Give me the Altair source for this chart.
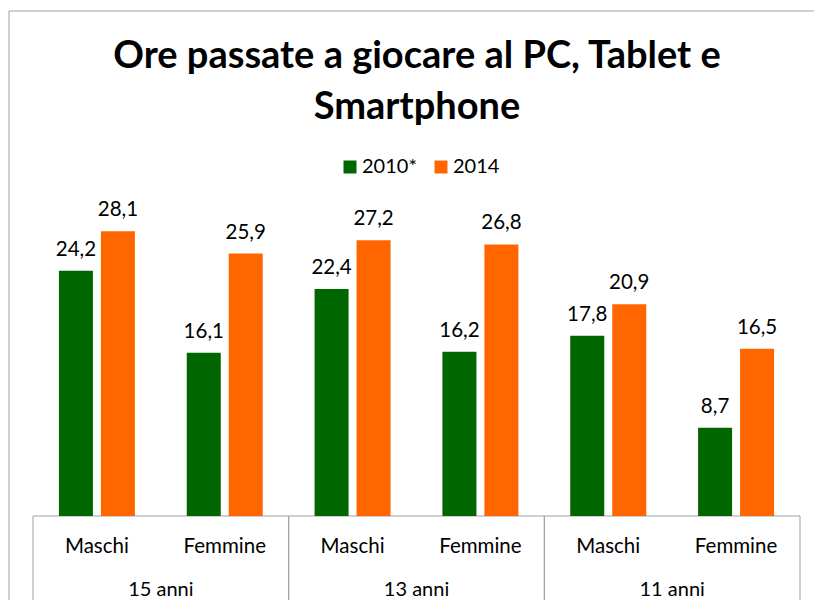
import altair as alt
import pandas as pd

ages = ["15 anni", "13 anni", "11 anni"]
genders = ["Maschi", "Femmine"]
years = ["2010*", "2014"]
v2010 = [24.2, 16.1, 22.4, 16.2, 17.8, 8.7]
v2014 = [28.1, 25.9, 27.2, 26.8, 20.9, 16.5]
title_lines = ["Ore passate a giocare al PC, Tablet e", "Smartphone"]

GREEN = "#006600"
ORANGE = "#ff6600"
LINE = "#a0a0a0"
FONT = "Lato"

keys = [f"{a} {g}" for a in ages for g in genders]
rows = []
i = 0
for a in ages:
    for g in genders:
        for y, vals in zip(years, [v2010, v2014]):
            v = vals[i]
            rows.append({"age": a, "gender": g, "key": f"{a} {g}", "year": y,
                         "value": v, "label": f"{v:.1f}".replace(".", ",")})
        i += 1
df = pd.DataFrame(rows)
df_keys = pd.DataFrame([{"key": f"{a} {g}", "gender": g} for a in ages for g in genders])
df_ages = pd.DataFrame({"age": ages})

W, H = 767, 304

xk = alt.X("key:N", sort=keys, axis=None, scale=alt.Scale(paddingInner=0, paddingOuter=0))
xo = alt.XOffset("year:N", sort=years, scale=alt.Scale(paddingInner=0.19, paddingOuter=0.617))
yv = alt.Y("value:Q", axis=None, scale=alt.Scale(domain=[0, 30]))
xa = alt.X("age:N", sort=ages, axis=None, scale=alt.Scale(paddingInner=0, paddingOuter=0))

bars = alt.Chart(df).mark_bar().encode(
    x=xk, xOffset=xo, y=yv,
    color=alt.Color("year:N", scale=alt.Scale(domain=years, range=[GREEN, ORANGE]),
                    legend=alt.Legend(orient="none", legendX=307, legendY=-55,
                                      direction="horizontal", title=None,
                                      symbolType="square", symbolSize=169,
                                      symbolStrokeWidth=0,
                                      labelFontSize=20, labelFont=FONT, labelColor="#000",
                                      labelOffset=2, columnPadding=14, padding=0)),
)

labels = alt.Chart(df).mark_text(baseline="alphabetic", dy=-15, fontSize=20.5,
                                 font=FONT, color="#000").encode(
    x=xk, xOffset=xo, y=yv, text="label:N")

gender_text = alt.Chart(df_keys).mark_text(baseline="alphabetic", fontSize=20.5,
                                           font=FONT, color="#000").encode(
    x=xk, y=alt.value(341), text="gender:N")

age_boxes = alt.Chart(df_ages).mark_rect(fillOpacity=0, stroke=LINE, strokeWidth=1).encode(
    x=xa, y=alt.value(H), y2=alt.value(H + 130))

age_text = alt.Chart(df_ages).mark_text(baseline="alphabetic", fontSize=20,
                                        font=FONT, color="#000").encode(
    x=xa, y=alt.value(384), text="age:N")

title = alt.Chart(pd.DataFrame({"t": [0]})).mark_text(
    text=title_lines, font=FONT, fontSize=38, fontWeight="bold", color="#000",
    baseline="alphabetic", lineHeight=51, align="center").encode(
    x=alt.value(W / 2 + 0.5), y=alt.value(-144))

one = pd.DataFrame({"t": [0]})
frame_top = alt.Chart(one).mark_rule(stroke=LINE, strokeWidth=1).encode(
    x=alt.value(-24), x2=alt.value(W + 60), y=alt.value(-201))
frame_left = alt.Chart(one).mark_rule(stroke=LINE, strokeWidth=1).encode(
    x=alt.value(-24), y=alt.value(-201), y2=alt.value(H + 100))

chart = alt.layer(frame_top, frame_left, title, age_boxes, bars, labels,
                  gender_text, age_text).resolve_scale(
    x="independent"
).properties(
    width=W, height=H,
    autosize=alt.AutoSizeParams(type="none"),
    padding={"left": 25, "top": 204, "right": 14, "bottom": 84},
    background="white",
).configure_view(stroke=None)

chart.save("out.html", embed_options={"renderer": "svg", "actions": False})
